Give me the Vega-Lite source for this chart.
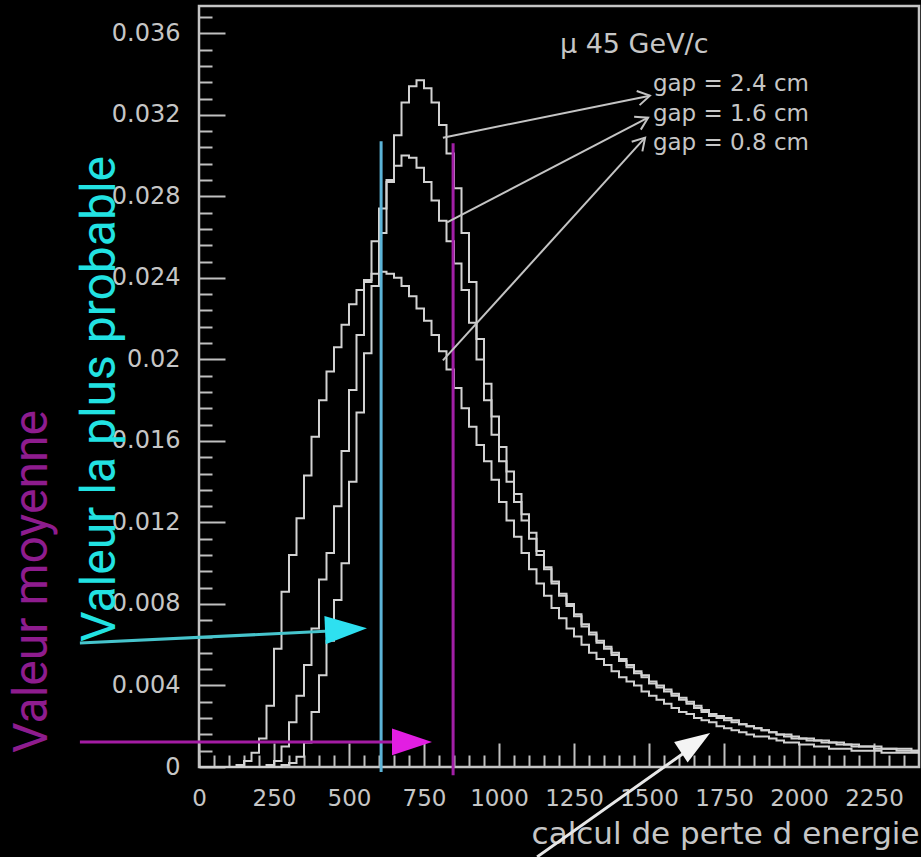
{
  "$schema": "https://vega.github.io/schema/vega-lite/v6.json",
  "width": 720,
  "height": 761,
  "autosize": {"type": "none"},
  "padding": {"left": 199, "top": 6, "right": 2, "bottom": 90},
  "background": "#000000",
  "config": {
    "view": {"stroke": "#c4c4c4", "strokeWidth": 2.5},
    "axis": {"grid": false, "labelFont": "DejaVu Sans", "titleFont": "DejaVu Sans"}
  },
  "datasets": {
    "hist": [
      {"gap": "0.8 cm", "loss": 0, "freq": 0}, {"gap": "0.8 cm", "loss": 25, "freq": 0}, {"gap": "0.8 cm", "loss": 50, "freq": 0}, {"gap": "0.8 cm", "loss": 75, "freq": 0},
      {"gap": "0.8 cm", "loss": 100, "freq": 0}, {"gap": "0.8 cm", "loss": 125, "freq": 0.0001}, {"gap": "0.8 cm", "loss": 150, "freq": 0.0003}, {"gap": "0.8 cm", "loss": 175, "freq": 0.0007},
      {"gap": "0.8 cm", "loss": 200, "freq": 0.0014}, {"gap": "0.8 cm", "loss": 225, "freq": 0.003}, {"gap": "0.8 cm", "loss": 250, "freq": 0.0058}, {"gap": "0.8 cm", "loss": 275, "freq": 0.0086},
      {"gap": "0.8 cm", "loss": 300, "freq": 0.0104}, {"gap": "0.8 cm", "loss": 325, "freq": 0.0122}, {"gap": "0.8 cm", "loss": 350, "freq": 0.0143}, {"gap": "0.8 cm", "loss": 375, "freq": 0.0162},
      {"gap": "0.8 cm", "loss": 400, "freq": 0.018}, {"gap": "0.8 cm", "loss": 425, "freq": 0.0194}, {"gap": "0.8 cm", "loss": 450, "freq": 0.0206}, {"gap": "0.8 cm", "loss": 475, "freq": 0.0217},
      {"gap": "0.8 cm", "loss": 500, "freq": 0.0227}, {"gap": "0.8 cm", "loss": 525, "freq": 0.0234}, {"gap": "0.8 cm", "loss": 550, "freq": 0.0239}, {"gap": "0.8 cm", "loss": 575, "freq": 0.0242},
      {"gap": "0.8 cm", "loss": 600, "freq": 0.0243}, {"gap": "0.8 cm", "loss": 625, "freq": 0.0242}, {"gap": "0.8 cm", "loss": 650, "freq": 0.024}, {"gap": "0.8 cm", "loss": 675, "freq": 0.0236},
      {"gap": "0.8 cm", "loss": 700, "freq": 0.0231}, {"gap": "0.8 cm", "loss": 725, "freq": 0.0225}, {"gap": "0.8 cm", "loss": 750, "freq": 0.0219}, {"gap": "0.8 cm", "loss": 775, "freq": 0.0212},
      {"gap": "0.8 cm", "loss": 800, "freq": 0.0204}, {"gap": "0.8 cm", "loss": 825, "freq": 0.0195}, {"gap": "0.8 cm", "loss": 850, "freq": 0.0186}, {"gap": "0.8 cm", "loss": 875, "freq": 0.0176},
      {"gap": "0.8 cm", "loss": 900, "freq": 0.0167}, {"gap": "0.8 cm", "loss": 925, "freq": 0.0158}, {"gap": "0.8 cm", "loss": 950, "freq": 0.015}, {"gap": "0.8 cm", "loss": 975, "freq": 0.0141},
      {"gap": "0.8 cm", "loss": 1000, "freq": 0.013}, {"gap": "0.8 cm", "loss": 1025, "freq": 0.0121}, {"gap": "0.8 cm", "loss": 1050, "freq": 0.0113}, {"gap": "0.8 cm", "loss": 1075, "freq": 0.0105},
      {"gap": "0.8 cm", "loss": 1100, "freq": 0.0097}, {"gap": "0.8 cm", "loss": 1125, "freq": 0.009}, {"gap": "0.8 cm", "loss": 1150, "freq": 0.0084}, {"gap": "0.8 cm", "loss": 1175, "freq": 0.0078},
      {"gap": "0.8 cm", "loss": 1200, "freq": 0.0073}, {"gap": "0.8 cm", "loss": 1225, "freq": 0.0068}, {"gap": "0.8 cm", "loss": 1250, "freq": 0.0064}, {"gap": "0.8 cm", "loss": 1275, "freq": 0.006},
      {"gap": "0.8 cm", "loss": 1300, "freq": 0.0056}, {"gap": "0.8 cm", "loss": 1325, "freq": 0.0053}, {"gap": "0.8 cm", "loss": 1350, "freq": 0.005}, {"gap": "0.8 cm", "loss": 1375, "freq": 0.0047},
      {"gap": "0.8 cm", "loss": 1400, "freq": 0.0044}, {"gap": "0.8 cm", "loss": 1425, "freq": 0.0042}, {"gap": "0.8 cm", "loss": 1450, "freq": 0.004}, {"gap": "0.8 cm", "loss": 1475, "freq": 0.0037},
      {"gap": "0.8 cm", "loss": 1500, "freq": 0.0035}, {"gap": "0.8 cm", "loss": 1525, "freq": 0.0033}, {"gap": "0.8 cm", "loss": 1550, "freq": 0.0031}, {"gap": "0.8 cm", "loss": 1575, "freq": 0.0029},
      {"gap": "0.8 cm", "loss": 1600, "freq": 0.0027}, {"gap": "0.8 cm", "loss": 1625, "freq": 0.0026}, {"gap": "0.8 cm", "loss": 1650, "freq": 0.0024}, {"gap": "0.8 cm", "loss": 1675, "freq": 0.0023},
      {"gap": "0.8 cm", "loss": 1700, "freq": 0.0022}, {"gap": "0.8 cm", "loss": 1725, "freq": 0.002}, {"gap": "0.8 cm", "loss": 1750, "freq": 0.0019}, {"gap": "0.8 cm", "loss": 1775, "freq": 0.0018},
      {"gap": "0.8 cm", "loss": 1800, "freq": 0.0017}, {"gap": "0.8 cm", "loss": 1825, "freq": 0.0016}, {"gap": "0.8 cm", "loss": 1850, "freq": 0.0015}, {"gap": "0.8 cm", "loss": 1875, "freq": 0.0015},
      {"gap": "0.8 cm", "loss": 1900, "freq": 0.0014}, {"gap": "0.8 cm", "loss": 1925, "freq": 0.0013}, {"gap": "0.8 cm", "loss": 1950, "freq": 0.0012}, {"gap": "0.8 cm", "loss": 1975, "freq": 0.0012},
      {"gap": "0.8 cm", "loss": 2000, "freq": 0.0011}, {"gap": "0.8 cm", "loss": 2025, "freq": 0.0011}, {"gap": "0.8 cm", "loss": 2050, "freq": 0.001}, {"gap": "0.8 cm", "loss": 2075, "freq": 0.001},
      {"gap": "0.8 cm", "loss": 2100, "freq": 0.0009}, {"gap": "0.8 cm", "loss": 2125, "freq": 0.0009}, {"gap": "0.8 cm", "loss": 2150, "freq": 0.0009}, {"gap": "0.8 cm", "loss": 2175, "freq": 0.0008},
      {"gap": "0.8 cm", "loss": 2200, "freq": 0.0008}, {"gap": "0.8 cm", "loss": 2225, "freq": 0.0008}, {"gap": "0.8 cm", "loss": 2250, "freq": 0.0008}, {"gap": "0.8 cm", "loss": 2275, "freq": 0.0007},
      {"gap": "0.8 cm", "loss": 2300, "freq": 0.0007}, {"gap": "0.8 cm", "loss": 2325, "freq": 0.0007}, {"gap": "0.8 cm", "loss": 2350, "freq": 0.0007}, {"gap": "0.8 cm", "loss": 2375, "freq": 0.0007},
      {"gap": "0.8 cm", "loss": 2400, "freq": 0.0007},

      {"gap": "1.6 cm", "loss": 0, "freq": 0}, {"gap": "1.6 cm", "loss": 25, "freq": 0}, {"gap": "1.6 cm", "loss": 50, "freq": 0}, {"gap": "1.6 cm", "loss": 75, "freq": 0},
      {"gap": "1.6 cm", "loss": 100, "freq": 0}, {"gap": "1.6 cm", "loss": 125, "freq": 0}, {"gap": "1.6 cm", "loss": 150, "freq": 0}, {"gap": "1.6 cm", "loss": 175, "freq": 0},
      {"gap": "1.6 cm", "loss": 200, "freq": 0}, {"gap": "1.6 cm", "loss": 225, "freq": 0.0001}, {"gap": "1.6 cm", "loss": 250, "freq": 0.0003}, {"gap": "1.6 cm", "loss": 275, "freq": 0.001},
      {"gap": "1.6 cm", "loss": 300, "freq": 0.0022}, {"gap": "1.6 cm", "loss": 325, "freq": 0.0035}, {"gap": "1.6 cm", "loss": 350, "freq": 0.005}, {"gap": "1.6 cm", "loss": 375, "freq": 0.0068},
      {"gap": "1.6 cm", "loss": 400, "freq": 0.0092}, {"gap": "1.6 cm", "loss": 425, "freq": 0.0105}, {"gap": "1.6 cm", "loss": 450, "freq": 0.0128}, {"gap": "1.6 cm", "loss": 475, "freq": 0.0155},
      {"gap": "1.6 cm", "loss": 500, "freq": 0.0185}, {"gap": "1.6 cm", "loss": 525, "freq": 0.0212}, {"gap": "1.6 cm", "loss": 550, "freq": 0.0238}, {"gap": "1.6 cm", "loss": 575, "freq": 0.0258},
      {"gap": "1.6 cm", "loss": 600, "freq": 0.0274}, {"gap": "1.6 cm", "loss": 625, "freq": 0.0287}, {"gap": "1.6 cm", "loss": 650, "freq": 0.0295}, {"gap": "1.6 cm", "loss": 675, "freq": 0.03},
      {"gap": "1.6 cm", "loss": 700, "freq": 0.0299}, {"gap": "1.6 cm", "loss": 725, "freq": 0.0294}, {"gap": "1.6 cm", "loss": 750, "freq": 0.0287}, {"gap": "1.6 cm", "loss": 775, "freq": 0.0278},
      {"gap": "1.6 cm", "loss": 800, "freq": 0.0268}, {"gap": "1.6 cm", "loss": 825, "freq": 0.0258}, {"gap": "1.6 cm", "loss": 850, "freq": 0.0247}, {"gap": "1.6 cm", "loss": 875, "freq": 0.0234},
      {"gap": "1.6 cm", "loss": 900, "freq": 0.0218}, {"gap": "1.6 cm", "loss": 925, "freq": 0.02}, {"gap": "1.6 cm", "loss": 950, "freq": 0.018}, {"gap": "1.6 cm", "loss": 975, "freq": 0.0163},
      {"gap": "1.6 cm", "loss": 1000, "freq": 0.015}, {"gap": "1.6 cm", "loss": 1025, "freq": 0.014}, {"gap": "1.6 cm", "loss": 1050, "freq": 0.013}, {"gap": "1.6 cm", "loss": 1075, "freq": 0.0121},
      {"gap": "1.6 cm", "loss": 1100, "freq": 0.0112}, {"gap": "1.6 cm", "loss": 1125, "freq": 0.0104}, {"gap": "1.6 cm", "loss": 1150, "freq": 0.0097}, {"gap": "1.6 cm", "loss": 1175, "freq": 0.009},
      {"gap": "1.6 cm", "loss": 1200, "freq": 0.0084}, {"gap": "1.6 cm", "loss": 1225, "freq": 0.0079}, {"gap": "1.6 cm", "loss": 1250, "freq": 0.0074}, {"gap": "1.6 cm", "loss": 1275, "freq": 0.0069},
      {"gap": "1.6 cm", "loss": 1300, "freq": 0.0065}, {"gap": "1.6 cm", "loss": 1325, "freq": 0.0061}, {"gap": "1.6 cm", "loss": 1350, "freq": 0.0058}, {"gap": "1.6 cm", "loss": 1375, "freq": 0.0055},
      {"gap": "1.6 cm", "loss": 1400, "freq": 0.0052}, {"gap": "1.6 cm", "loss": 1425, "freq": 0.0049}, {"gap": "1.6 cm", "loss": 1450, "freq": 0.0046}, {"gap": "1.6 cm", "loss": 1475, "freq": 0.0044},
      {"gap": "1.6 cm", "loss": 1500, "freq": 0.0041}, {"gap": "1.6 cm", "loss": 1525, "freq": 0.0039}, {"gap": "1.6 cm", "loss": 1550, "freq": 0.0037}, {"gap": "1.6 cm", "loss": 1575, "freq": 0.0035},
      {"gap": "1.6 cm", "loss": 1600, "freq": 0.0033}, {"gap": "1.6 cm", "loss": 1625, "freq": 0.0031}, {"gap": "1.6 cm", "loss": 1650, "freq": 0.0029}, {"gap": "1.6 cm", "loss": 1675, "freq": 0.0027},
      {"gap": "1.6 cm", "loss": 1700, "freq": 0.0025}, {"gap": "1.6 cm", "loss": 1725, "freq": 0.0024}, {"gap": "1.6 cm", "loss": 1750, "freq": 0.0023}, {"gap": "1.6 cm", "loss": 1775, "freq": 0.0022},
      {"gap": "1.6 cm", "loss": 1800, "freq": 0.0021}, {"gap": "1.6 cm", "loss": 1825, "freq": 0.002}, {"gap": "1.6 cm", "loss": 1850, "freq": 0.0019}, {"gap": "1.6 cm", "loss": 1875, "freq": 0.0018},
      {"gap": "1.6 cm", "loss": 1900, "freq": 0.0017}, {"gap": "1.6 cm", "loss": 1925, "freq": 0.0016}, {"gap": "1.6 cm", "loss": 1950, "freq": 0.0015}, {"gap": "1.6 cm", "loss": 1975, "freq": 0.0014},
      {"gap": "1.6 cm", "loss": 2000, "freq": 0.0014}, {"gap": "1.6 cm", "loss": 2025, "freq": 0.0013}, {"gap": "1.6 cm", "loss": 2050, "freq": 0.0013}, {"gap": "1.6 cm", "loss": 2075, "freq": 0.0012},
      {"gap": "1.6 cm", "loss": 2100, "freq": 0.0012}, {"gap": "1.6 cm", "loss": 2125, "freq": 0.0011}, {"gap": "1.6 cm", "loss": 2150, "freq": 0.0011}, {"gap": "1.6 cm", "loss": 2175, "freq": 0.001},
      {"gap": "1.6 cm", "loss": 2200, "freq": 0.001}, {"gap": "1.6 cm", "loss": 2225, "freq": 0.001}, {"gap": "1.6 cm", "loss": 2250, "freq": 0.0009}, {"gap": "1.6 cm", "loss": 2275, "freq": 0.0009},
      {"gap": "1.6 cm", "loss": 2300, "freq": 0.0009}, {"gap": "1.6 cm", "loss": 2325, "freq": 0.0008}, {"gap": "1.6 cm", "loss": 2350, "freq": 0.0008}, {"gap": "1.6 cm", "loss": 2375, "freq": 0.0008},
      {"gap": "1.6 cm", "loss": 2400, "freq": 0.0008},

      {"gap": "2.4 cm", "loss": 0, "freq": 0}, {"gap": "2.4 cm", "loss": 25, "freq": 0}, {"gap": "2.4 cm", "loss": 50, "freq": 0}, {"gap": "2.4 cm", "loss": 75, "freq": 0},
      {"gap": "2.4 cm", "loss": 100, "freq": 0}, {"gap": "2.4 cm", "loss": 125, "freq": 0}, {"gap": "2.4 cm", "loss": 150, "freq": 0}, {"gap": "2.4 cm", "loss": 175, "freq": 0},
      {"gap": "2.4 cm", "loss": 200, "freq": 0}, {"gap": "2.4 cm", "loss": 225, "freq": 0}, {"gap": "2.4 cm", "loss": 250, "freq": 0}, {"gap": "2.4 cm", "loss": 275, "freq": 0.0001},
      {"gap": "2.4 cm", "loss": 300, "freq": 0.0002}, {"gap": "2.4 cm", "loss": 325, "freq": 0.0005}, {"gap": "2.4 cm", "loss": 350, "freq": 0.0012}, {"gap": "2.4 cm", "loss": 375, "freq": 0.0027},
      {"gap": "2.4 cm", "loss": 400, "freq": 0.0045}, {"gap": "2.4 cm", "loss": 425, "freq": 0.0062}, {"gap": "2.4 cm", "loss": 450, "freq": 0.0082}, {"gap": "2.4 cm", "loss": 475, "freq": 0.01},
      {"gap": "2.4 cm", "loss": 500, "freq": 0.014}, {"gap": "2.4 cm", "loss": 525, "freq": 0.0174}, {"gap": "2.4 cm", "loss": 550, "freq": 0.0203}, {"gap": "2.4 cm", "loss": 575, "freq": 0.0236},
      {"gap": "2.4 cm", "loss": 600, "freq": 0.0262}, {"gap": "2.4 cm", "loss": 625, "freq": 0.0288}, {"gap": "2.4 cm", "loss": 650, "freq": 0.031}, {"gap": "2.4 cm", "loss": 675, "freq": 0.0326},
      {"gap": "2.4 cm", "loss": 700, "freq": 0.0334}, {"gap": "2.4 cm", "loss": 725, "freq": 0.0337}, {"gap": "2.4 cm", "loss": 750, "freq": 0.0333}, {"gap": "2.4 cm", "loss": 775, "freq": 0.0326},
      {"gap": "2.4 cm", "loss": 800, "freq": 0.0315}, {"gap": "2.4 cm", "loss": 825, "freq": 0.0301}, {"gap": "2.4 cm", "loss": 850, "freq": 0.0284}, {"gap": "2.4 cm", "loss": 875, "freq": 0.0262},
      {"gap": "2.4 cm", "loss": 900, "freq": 0.0238}, {"gap": "2.4 cm", "loss": 925, "freq": 0.021}, {"gap": "2.4 cm", "loss": 950, "freq": 0.0188}, {"gap": "2.4 cm", "loss": 975, "freq": 0.0172},
      {"gap": "2.4 cm", "loss": 1000, "freq": 0.0157}, {"gap": "2.4 cm", "loss": 1025, "freq": 0.0145}, {"gap": "2.4 cm", "loss": 1050, "freq": 0.0134}, {"gap": "2.4 cm", "loss": 1075, "freq": 0.0124},
      {"gap": "2.4 cm", "loss": 1100, "freq": 0.0115}, {"gap": "2.4 cm", "loss": 1125, "freq": 0.0106}, {"gap": "2.4 cm", "loss": 1150, "freq": 0.0098}, {"gap": "2.4 cm", "loss": 1175, "freq": 0.0091},
      {"gap": "2.4 cm", "loss": 1200, "freq": 0.0085}, {"gap": "2.4 cm", "loss": 1225, "freq": 0.008}, {"gap": "2.4 cm", "loss": 1250, "freq": 0.0075}, {"gap": "2.4 cm", "loss": 1275, "freq": 0.007},
      {"gap": "2.4 cm", "loss": 1300, "freq": 0.0066}, {"gap": "2.4 cm", "loss": 1325, "freq": 0.0062}, {"gap": "2.4 cm", "loss": 1350, "freq": 0.0059}, {"gap": "2.4 cm", "loss": 1375, "freq": 0.0056},
      {"gap": "2.4 cm", "loss": 1400, "freq": 0.0053}, {"gap": "2.4 cm", "loss": 1425, "freq": 0.005}, {"gap": "2.4 cm", "loss": 1450, "freq": 0.0047}, {"gap": "2.4 cm", "loss": 1475, "freq": 0.0045},
      {"gap": "2.4 cm", "loss": 1500, "freq": 0.0042}, {"gap": "2.4 cm", "loss": 1525, "freq": 0.004}, {"gap": "2.4 cm", "loss": 1550, "freq": 0.0038}, {"gap": "2.4 cm", "loss": 1575, "freq": 0.0036},
      {"gap": "2.4 cm", "loss": 1600, "freq": 0.0034}, {"gap": "2.4 cm", "loss": 1625, "freq": 0.0032}, {"gap": "2.4 cm", "loss": 1650, "freq": 0.003}, {"gap": "2.4 cm", "loss": 1675, "freq": 0.0028},
      {"gap": "2.4 cm", "loss": 1700, "freq": 0.0026}, {"gap": "2.4 cm", "loss": 1725, "freq": 0.0025}, {"gap": "2.4 cm", "loss": 1750, "freq": 0.0024}, {"gap": "2.4 cm", "loss": 1775, "freq": 0.0023},
      {"gap": "2.4 cm", "loss": 1800, "freq": 0.0021}, {"gap": "2.4 cm", "loss": 1825, "freq": 0.002}, {"gap": "2.4 cm", "loss": 1850, "freq": 0.0019}, {"gap": "2.4 cm", "loss": 1875, "freq": 0.0018},
      {"gap": "2.4 cm", "loss": 1900, "freq": 0.0017}, {"gap": "2.4 cm", "loss": 1925, "freq": 0.0016}, {"gap": "2.4 cm", "loss": 1950, "freq": 0.0016}, {"gap": "2.4 cm", "loss": 1975, "freq": 0.0015},
      {"gap": "2.4 cm", "loss": 2000, "freq": 0.0014}, {"gap": "2.4 cm", "loss": 2025, "freq": 0.0014}, {"gap": "2.4 cm", "loss": 2050, "freq": 0.0013}, {"gap": "2.4 cm", "loss": 2075, "freq": 0.0013},
      {"gap": "2.4 cm", "loss": 2100, "freq": 0.0012}, {"gap": "2.4 cm", "loss": 2125, "freq": 0.0012}, {"gap": "2.4 cm", "loss": 2150, "freq": 0.0011}, {"gap": "2.4 cm", "loss": 2175, "freq": 0.0011},
      {"gap": "2.4 cm", "loss": 2200, "freq": 0.001}, {"gap": "2.4 cm", "loss": 2225, "freq": 0.001}, {"gap": "2.4 cm", "loss": 2250, "freq": 0.001}, {"gap": "2.4 cm", "loss": 2275, "freq": 0.0009},
      {"gap": "2.4 cm", "loss": 2300, "freq": 0.0009}, {"gap": "2.4 cm", "loss": 2325, "freq": 0.0009}, {"gap": "2.4 cm", "loss": 2350, "freq": 0.0009}, {"gap": "2.4 cm", "loss": 2375, "freq": 0.0008},
      {"gap": "2.4 cm", "loss": 2400, "freq": 0.0008}
    ],
    "markers": [
      {"kind": "most probable", "loss": 607, "lo": -0.00025, "hi": 0.0307},
      {"kind": "mean", "loss": 847, "lo": -0.0004, "hi": 0.0306}
    ],
    "pointers": [
      {"gap": "2.4 cm", "loss": 813, "freq": 0.03088, "tip_loss": 1503, "tip_freq": 0.03294},
      {"gap": "1.6 cm", "loss": 827, "freq": 0.02672, "tip_loss": 1497, "tip_freq": 0.03186},
      {"gap": "0.8 cm", "loss": 813, "freq": 0.01995, "tip_loss": 1487, "tip_freq": 0.03088}
    ],
    "callouts": [
      {"kind": "most probable", "loss": -397, "freq": 0.00608, "tip_loss": 437, "tip_freq": 0.00667, "head_loss": 490, "head_freq": 0.00676},
      {"kind": "mean", "loss": -397, "freq": 0.00123, "tip_loss": 653, "tip_freq": 0.00123, "head_loss": 710, "head_freq": 0.00123},
      {"kind": "tail", "loss": 1127, "freq": -0.00441, "tip_loss": 1680, "tip_freq": 0.00135, "head_loss": 1655, "head_freq": 0.0012}
    ],
    "labels": [
      {"text": "μ 45 GeV/c", "loss": 1203, "freq": 0.03505, "size": "big"},
      {"text": "gap = 2.4 cm", "loss": 1513, "freq": 0.03319, "size": "small"},
      {"text": "gap = 1.6 cm", "loss": 1513, "freq": 0.03172, "size": "small"},
      {"text": "gap = 0.8 cm", "loss": 1513, "freq": 0.03025, "size": "small"}
    ],
    "legendText": [
      {"kind": "mean", "text": "Valeur moyenne", "loss": -507, "freq": 0.00069},
      {"kind": "most probable", "text": "Valeur la plus probable", "loss": -280, "freq": 0.00613}
    ]
  },
  "layer": [
    {
      "data": {"name": "hist"},
      "mark": {"type": "line", "interpolate": "step-after", "color": "#d2d2d2", "strokeWidth": 2},
      "encoding": {
        "x": {
          "field": "loss", "type": "quantitative",
          "scale": {"domain": [0, 2400], "nice": false, "zero": false},
          "axis": {
            "orient": "bottom",
            "values": [0, 250, 500, 750, 1000, 1250, 1500, 1750, 2000, 2250],
            "format": "d", "ticks": false, "domain": false, "labelPadding": 20,
            "labelFontSize": 23, "labelColor": "#c6c6c6", "labelFlush": false, "labelOverlap": false,
            "title": "calcul de perte d energie", "titleAnchor": "end", "titleFontSize": 31,
            "titleFontWeight": "normal", "titleColor": "#c6c6c6", "titlePadding": 9
          }
        },
        "y": {
          "field": "freq", "type": "quantitative",
          "scale": {"domain": [0, 0.03734], "nice": false, "zero": false},
          "axis": {
            "orient": "left",
            "values": [0, 0.004, 0.008, 0.012, 0.016, 0.02, 0.024, 0.028, 0.032, 0.036],
            "format": "~g", "ticks": false, "domain": false, "labelPadding": 19,
            "labelFontSize": 24, "labelColor": "#c6c6c6", "labelFlush": false, "labelOverlap": false,
            "title": null
          }
        },
        "detail": {"field": "gap"}
      }
    },
    {
      "data": {"name": "markers"},
      "mark": {"type": "rule", "strokeWidth": 3},
      "encoding": {
        "x": {
          "field": "loss", "type": "quantitative",
          "axis": {
            "orient": "bottom",
            "values": [0, 250, 500, 750, 1000, 1250, 1500, 1750, 2000, 2250],
            "labels": false, "domain": false, "ticks": true, "tickSize": -24, "tickWidth": 2,
            "tickColor": "#c0c0c0", "title": null
          }
        },
        "y": {
          "field": "lo", "type": "quantitative",
          "axis": {
            "orient": "left",
            "values": [0, 0.004, 0.008, 0.012, 0.016, 0.02, 0.024, 0.028, 0.032, 0.036],
            "labels": false, "domain": false, "ticks": true, "tickSize": -26, "tickWidth": 2,
            "tickColor": "#c0c0c0", "title": null
          }
        },
        "y2": {"field": "hi"},
        "color": {
          "field": "kind", "type": "nominal",
          "scale": {"domain": ["most probable", "mean"], "range": ["#5cb4d8", "#a11fa6"]},
          "legend": null
        }
      }
    },
    {
      "data": {"name": "pointers"},
      "mark": {"type": "rule", "color": "#c4c4c4", "strokeWidth": 2},
      "encoding": {
        "x": {
          "field": "loss", "type": "quantitative",
          "axis": {
            "orient": "bottom",
            "values": [0, 50, 100, 150, 200, 300, 350, 400, 450, 550, 600, 650, 700, 800, 850, 900, 950, 1050, 1100, 1150, 1200, 1300, 1350, 1400, 1450, 1550, 1600, 1650, 1700, 1800, 1850, 1900, 1950, 2050, 2100, 2150, 2200, 2300, 2350],
            "labels": false, "domain": false, "ticks": true, "tickSize": -12, "tickWidth": 2,
            "tickColor": "#c0c0c0", "title": null
          }
        },
        "y": {
          "field": "freq", "type": "quantitative",
          "axis": {
            "orient": "left",
            "values": [0.0008, 0.0016, 0.0024, 0.0032, 0.0048, 0.0056, 0.0064, 0.0072, 0.0088, 0.0096, 0.0104, 0.0112, 0.0128, 0.0136, 0.0144, 0.0152, 0.0168, 0.0176, 0.0184, 0.0192, 0.0208, 0.0216, 0.0224, 0.0232, 0.0248, 0.0256, 0.0264, 0.0272, 0.0288, 0.0296, 0.0304, 0.0312, 0.0328, 0.0336, 0.0344, 0.0352, 0.0368],
            "labels": false, "domain": false, "ticks": true, "tickSize": -13, "tickWidth": 2,
            "tickColor": "#c0c0c0", "title": null
          }
        },
        "x2": {"field": "tip_loss"},
        "y2": {"field": "tip_freq"}
      }
    },
    {
      "data": {"name": "pointers"},
      "transform": [{"filter": "datum.gap === '2.4 cm'"}],
      "mark": {"type": "point", "shape": "M -1 -0.6 L 0 0 L -1 0.6", "filled": false, "size": 576, "strokeWidth": 2, "color": "#c4c4c4", "opacity": 1, "angle": -11.5},
      "encoding": {
        "x": {"field": "tip_loss", "type": "quantitative", "axis": null},
        "y": {"field": "tip_freq", "type": "quantitative", "axis": null}
      }
    },
    {
      "data": {"name": "pointers"},
      "transform": [{"filter": "datum.gap === '1.6 cm'"}],
      "mark": {"type": "point", "shape": "M -1 -0.6 L 0 0 L -1 0.6", "filled": false, "size": 576, "strokeWidth": 2, "color": "#c4c4c4", "opacity": 1, "angle": -27.6},
      "encoding": {
        "x": {"field": "tip_loss", "type": "quantitative", "axis": null},
        "y": {"field": "tip_freq", "type": "quantitative", "axis": null}
      }
    },
    {
      "data": {"name": "pointers"},
      "transform": [{"filter": "datum.gap === '0.8 cm'"}],
      "mark": {"type": "point", "shape": "M -1 -0.6 L 0 0 L -1 0.6", "filled": false, "size": 576, "strokeWidth": 2, "color": "#c4c4c4", "opacity": 1, "angle": -47.8},
      "encoding": {
        "x": {"field": "tip_loss", "type": "quantitative", "axis": null},
        "y": {"field": "tip_freq", "type": "quantitative", "axis": null}
      }
    },
    {
      "data": {"name": "callouts"},
      "mark": {"type": "rule", "strokeWidth": 3},
      "encoding": {
        "x": {"field": "loss", "type": "quantitative", "axis": null},
        "y": {"field": "freq", "type": "quantitative", "axis": null},
        "x2": {"field": "tip_loss"},
        "y2": {"field": "tip_freq"},
        "color": {
          "field": "kind", "type": "nominal",
          "scale": {"domain": ["most probable", "mean", "tail"], "range": ["#46c4cc", "#a41ca4", "#e8e8e8"]},
          "legend": null
        }
      }
    },
    {
      "data": {"name": "callouts"},
      "transform": [{"filter": "datum.kind === 'most probable'"}],
      "mark": {"type": "point", "shape": "M -1 -0.67 L 1 0 L -1 0.67 Z", "filled": true, "size": 1764, "color": "#2ee0f0", "opacity": 1, "angle": -2.5},
      "encoding": {
        "x": {"field": "head_loss", "type": "quantitative", "axis": null},
        "y": {"field": "head_freq", "type": "quantitative", "axis": null}
      }
    },
    {
      "data": {"name": "callouts"},
      "transform": [{"filter": "datum.kind === 'mean'"}],
      "mark": {"type": "point", "shape": "M -1 -0.67 L 1 0 L -1 0.67 Z", "filled": true, "size": 1600, "color": "#e21ee2", "opacity": 1},
      "encoding": {
        "x": {"field": "head_loss", "type": "quantitative", "axis": null},
        "y": {"field": "head_freq", "type": "quantitative", "axis": null}
      }
    },
    {
      "data": {"name": "callouts"},
      "transform": [{"filter": "datum.kind === 'tail'"}],
      "mark": {"type": "point", "shape": "M -1 -0.7 L 1 0 L -1 0.7 Z", "filled": true, "size": 1225, "color": "#f4f4f4", "opacity": 1, "angle": -33.4},
      "encoding": {
        "x": {"field": "head_loss", "type": "quantitative", "axis": null},
        "y": {"field": "head_freq", "type": "quantitative", "axis": null}
      }
    },
    {
      "data": {"name": "labels"},
      "mark": {"type": "text", "align": "left", "baseline": "alphabetic", "font": "DejaVu Sans", "color": "#c6c6c6"},
      "encoding": {
        "x": {"field": "loss", "type": "quantitative", "axis": null},
        "y": {"field": "freq", "type": "quantitative", "axis": null},
        "text": {"field": "text"},
        "size": {"field": "size", "type": "nominal", "scale": {"domain": ["big", "small"], "range": [27, 23]}, "legend": null}
      }
    },
    {
      "data": {"name": "legendText"},
      "mark": {"type": "text", "align": "left", "baseline": "alphabetic", "font": "Roboto", "fontSize": 48, "angle": 270},
      "encoding": {
        "x": {"field": "loss", "type": "quantitative", "axis": null},
        "y": {"field": "freq", "type": "quantitative", "axis": null},
        "text": {"field": "text"},
        "color": {
          "field": "kind", "type": "nominal",
          "scale": {"domain": ["most probable", "mean"], "range": ["#22e2e2", "#8e1c8e"]},
          "legend": null
        }
      }
    }
  ],
  "resolve": {
    "axis": {"x": "independent", "y": "independent"},
    "scale": {"color": "independent", "size": "independent"}
  }
}
